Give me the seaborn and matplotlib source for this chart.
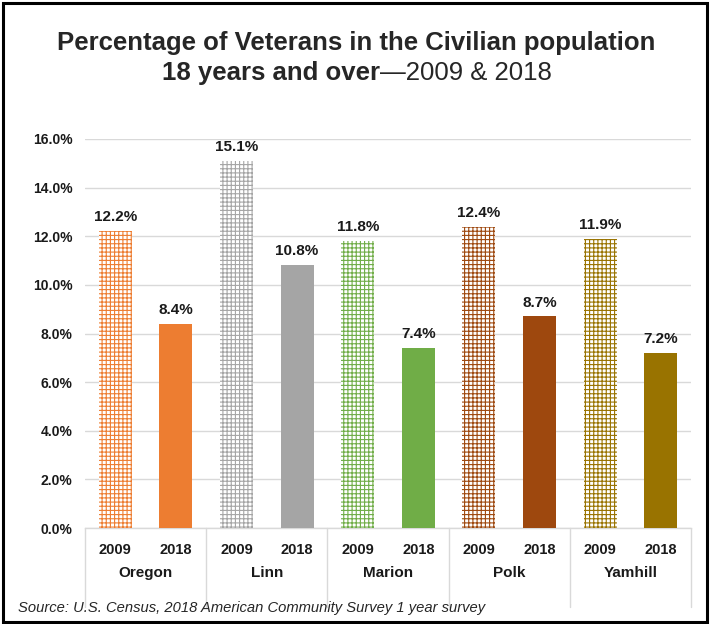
import matplotlib
matplotlib.use("Agg")
import matplotlib.pyplot as plt
import matplotlib.transforms as mtransforms
from matplotlib.patches import Rectangle
import seaborn as sns
import pandas as pd

counties = ["Oregon", "Linn", "Marion", "Polk", "Yamhill"]
years = ["2009", "2018"]
values_2009 = [12.2, 15.1, 11.8, 12.4, 11.9]
values_2018 = [8.4, 10.8, 7.4, 8.7, 7.2]
colors = ["#ED7D31", "#A5A5A5", "#70AD47", "#9E480E", "#997300"]
yticks = [0, 2, 4, 6, 8, 10, 12, 14, 16]

rows = []
for i, c in enumerate(counties):
    rows.append({"slot": f"{c} 2009", "county": c, "year": "2009", "value": values_2009[i]})
    rows.append({"slot": f"{c} 2018", "county": c, "year": "2018", "value": values_2018[i]})
df = pd.DataFrame(rows)
palette = {}
for i, c in enumerate(counties):
    palette[f"{c} 2009"] = colors[i]
    palette[f"{c} 2018"] = colors[i]

sns.set_style("white")
plt.rcParams["font.family"] = ["Liberation Sans", "DejaVu Sans"]
plt.rcParams["hatch.linewidth"] = 0.8

W, H = 713, 624
fig = plt.figure(figsize=(W / 100, H / 100), dpi=100)
ax = fig.add_axes([85 / W, (H - 528) / H, (691 - 85) / W, (528 - 139) / H])

sns.barplot(data=df, x="slot", y="value", hue="slot", palette=palette,
            width=0.545, legend=False, ax=ax, saturation=1, order=df["slot"].tolist())

for j, patch in enumerate(ax.patches):
    row = df.iloc[j]
    col = palette[row["slot"]]
    if row["year"] == "2009":
        patch.set_facecolor("white")
        patch.set_edgecolor(col)
        patch.set_hatch("++++")
        patch.set_linewidth(0)
    else:
        patch.set_linewidth(0)
    patch.set_zorder(3)
    h = patch.get_height()
    ax.annotate(f"{h:.1f}%", (patch.get_x() + patch.get_width() / 2, h),
                xytext=(0, 5), textcoords="offset points", ha="center", va="bottom",
                fontsize=11, fontweight="bold", color="#1a1a1a")

ax.set_ylim(0, 16)
ax.set_xlim(-0.5, 9.5)
ax.set_yticks(yticks)
ax.set_yticklabels([f"{t:.1f}%" for t in yticks], fontsize=10, fontweight="bold", color="#1a1a1a")
ax.tick_params(axis="y", length=0, pad=9)
ax.yaxis.grid(True, color="#D9D9D9", linewidth=1)
ax.set_axisbelow(True)
ax.set_xticks(range(10))
ax.set_xticklabels(years * 5, fontsize=10.5, fontweight="bold", color="#1a1a1a")
ax.tick_params(axis="x", length=0, pad=11)
ax.set_xlabel("")
ax.set_ylabel("")
for s in ["top", "right", "left"]:
    ax.spines[s].set_visible(False)
ax.spines["bottom"].set_color("#D9D9D9")
ax.spines["bottom"].set_linewidth(1)

trans = mtransforms.blended_transform_factory(ax.transData, ax.transAxes)
sep_bottom = -(607 - 528) / (528 - 139)
for k in range(6):
    x = -0.5 + 2 * k
    ax.plot([x, x], [0, sep_bottom], transform=trans, color="#D9D9D9", lw=1, clip_on=False)
for i, c in enumerate(counties):
    ax.text(2 * i + 0.5, -(573 - 528) / (528 - 139), c, transform=trans, ha="center", va="center",
            fontsize=11, fontweight="bold", color="#1a1a1a")

# title
TS = 18.5
fig.text(0.5, 1 - 43 / H, "Percentage of Veterans in the Civilian population", ha="center", va="center",
         fontsize=TS, fontweight="bold")
fig.canvas.draw()
r = fig.canvas.get_renderer()
t1 = fig.text(0, 1 - 73 / H, "18 years and over", ha="left", va="center", fontsize=TS, fontweight="bold")
t2 = fig.text(0, 1 - 73 / H, "\u20142009 & 2018", ha="left", va="center", fontsize=TS)
w1 = t1.get_window_extent(r).width
w2 = t2.get_window_extent(r).width
x0 = (W - (w1 + w2)) / 2
t1.set_x(x0 / W)
t2.set_x((x0 + w1) / W)

fig.text(18 / W, 1 - 608 / H, "Source: U.S. Census, 2018 American Community Survey 1 year survey",
         ha="left", va="center", fontsize=10.6, style="italic")

fig.patches.append(Rectangle((3 / W, 2 / H), (707 - 3) / W, (621 - 2) / H, transform=fig.transFigure,
                             fill=False, edgecolor="black", linewidth=2.2))

fig.savefig("out.png", dpi=100)
